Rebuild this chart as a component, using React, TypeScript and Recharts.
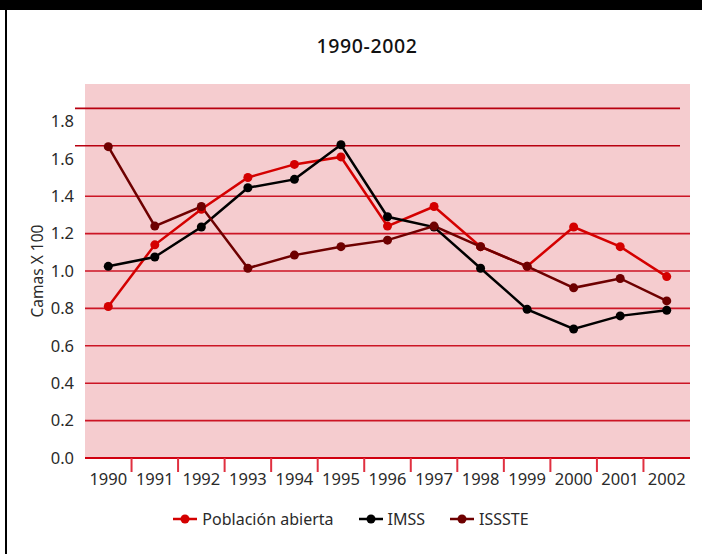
import React from 'react';
import { LineChart, Line, XAxis, YAxis, CartesianGrid, ReferenceLine, Legend } from 'recharts';

const years = ['1990', '1991', '1992', '1993', '1994', '1995', '1996', '1997', '1998', '1999', '2000', '2001', '2002'];
const poblacionAbierta = [0.81, 1.14, 1.33, 1.5, 1.57, 1.61, 1.24, 1.345, 1.13, 1.025, 1.235, 1.13, 0.97];
const imss = [1.025, 1.075, 1.235, 1.445, 1.49, 1.675, 1.29, 1.235, 1.015, 0.795, 0.69, 0.76, 0.79];
const issste = [1.665, 1.24, 1.345, 1.015, 1.085, 1.13, 1.165, 1.24, 1.13, 1.025, 0.91, 0.96, 0.84];
const yTicks = [0, 0.2, 0.4, 0.6, 0.8, 1.0, 1.2, 1.4, 1.6, 1.8];
const gridValues = [0.2, 0.4, 0.6, 0.8, 1.0, 1.2, 1.4];
const shiftedGridValues = [1.6, 1.8];

const seriesInfo = [
  { key: 'poblacion', name: 'Población abierta', color: '#D40000' },
  { key: 'imss', name: 'IMSS', color: '#000000' },
  { key: 'issste', name: 'ISSSTE', color: '#6E0000' },
];

const data = years.map((year, i) => ({
  year,
  poblacion: poblacionAbierta[i],
  imss: imss[i],
  issste: issste[i],
}));

const W = 702;
const H = 554;
const margin = { top: 84, right: 12, bottom: 66, left: 0 };
const yAxisWidth = 85;
const plotWidth = W - margin.left - margin.right - yAxisWidth;
const band = plotWidth / years.length;
const FONT = '"Noto Sans", sans-serif';
const GRID_COLOR = '#CC1525';
const TEXT_COLOR = '#2a2a2a';

const XTick = (props: any) => {
  const { x, y, payload, index } = props;
  return (
    <g>
      <text x={x} y={y + 27} textAnchor="middle" fontSize={16.5} fill={TEXT_COLOR} fontFamily={FONT}>
        {payload.value}
      </text>
      {index < years.length - 1 && (
        <line x1={x + band / 2} x2={x + band / 2} y1={y} y2={y + 14} stroke="#E03040" strokeWidth={2} />
      )}
    </g>
  );
};

const YLabel = (props: any) => {
  const vb = props.viewBox || { x: 0, y: 0, width: 0, height: 0 };
  const cx = vb.x + 37;
  const cy = vb.y + vb.height / 2;
  return (
    <text
      x={cx}
      y={cy}
      textAnchor="middle"
      dominantBaseline="central"
      transform={`rotate(-90 ${cx} ${cy})`}
      fontSize={15.5}
      fill={TEXT_COLOR}
      fontFamily={FONT}
    >
      Camas X 100
    </text>
  );
};

const ShiftedLine = (props: any) => {
  const { x1, y1, x2, y2 } = props;
  return <line x1={x1 - 10} y1={y1 - 13} x2={x2 - 10} y2={y2 - 13} stroke="#B80010" strokeWidth={1.6} />;
};

const LegendContent = () => (
  <div style={{ display: 'flex', justifyContent: 'center', alignItems: 'center', fontFamily: FONT, fontSize: 16, color: TEXT_COLOR }}>
    {seriesInfo.map((s, i) => (
      <div key={s.key} style={{ display: 'flex', alignItems: 'center', marginLeft: i === 0 ? 0 : 25 }}>
        <svg width={24} height={12} style={{ marginRight: 5 }}>
          <line x1={0} y1={6} x2={24} y2={6} stroke={s.color} strokeWidth={2.5} />
          <circle cx={12} cy={6} r={4.5} fill={s.color} />
        </svg>
        <span>{s.name}</span>
      </div>
    ))}
  </div>
);

export default function App() {
  return (
    <div style={{ position: 'absolute', left: 0, top: 0, width: W, height: H, background: '#fff', fontFamily: FONT }}>
      <div style={{ position: 'absolute', left: 0, top: 0, width: W, height: 10, background: '#000' }} />
      <div style={{ position: 'absolute', left: 5, top: 0, width: 2, height: H, background: '#000' }} />
      <div
        style={{
          position: 'absolute',
          left: 16,
          top: 33,
          width: W,
          textAlign: 'center',
          fontSize: 19.5,
          fontWeight: 500,
          letterSpacing: 0.6,
          color: '#111',
          lineHeight: '26px',
        }}
      >
        1990-2002
      </div>
      <div style={{ position: 'absolute', left: 0, top: 0 }}>
        <LineChart width={W} height={H} data={data} margin={margin}>
          <CartesianGrid
            vertical={false}
            horizontalValues={gridValues}
            stroke={GRID_COLOR}
            strokeWidth={1.6}
            fill="#F5CCCF"
            fillOpacity={1}
          />
          <XAxis
            dataKey="year"
            height={30}
            interval={0}
            padding={{ left: band / 2, right: band / 2 }}
            axisLine={{ stroke: '#D00010', strokeWidth: 2 }}
            tickLine={false}
            tickSize={0}
            tickMargin={0}
            tick={<XTick />}
          />
          <YAxis
            width={yAxisWidth}
            domain={[0, 2]}
            ticks={yTicks}
            axisLine={false}
            tickLine={false}
            tickSize={6}
            tickMargin={5}
            tick={{ fontSize: 16.5, fill: TEXT_COLOR, fontFamily: FONT }}
            tickFormatter={(v: number) => v.toFixed(1)}
            label={<YLabel />}
          />
          {shiftedGridValues.map((v) => (
            <ReferenceLine key={v} y={v} shape={(p: any) => <ShiftedLine {...p} />} />
          ))}
          {seriesInfo.map((s) => (
            <Line
              key={s.key}
              type="linear"
              dataKey={s.key}
              name={s.name}
              stroke={s.color}
              strokeWidth={2.5}
              dot={{ r: 4.5, fill: s.color, stroke: s.color, strokeWidth: 0 }}
              activeDot={false}
              isAnimationActive={false}
            />
          ))}
          <Legend
            layout="horizontal"
            verticalAlign="middle"
            align="center"
            content={<LegendContent />}
            wrapperStyle={{ top: 508, left: 0, width: W }}
          />
        </LineChart>
      </div>
    </div>
  );
}
